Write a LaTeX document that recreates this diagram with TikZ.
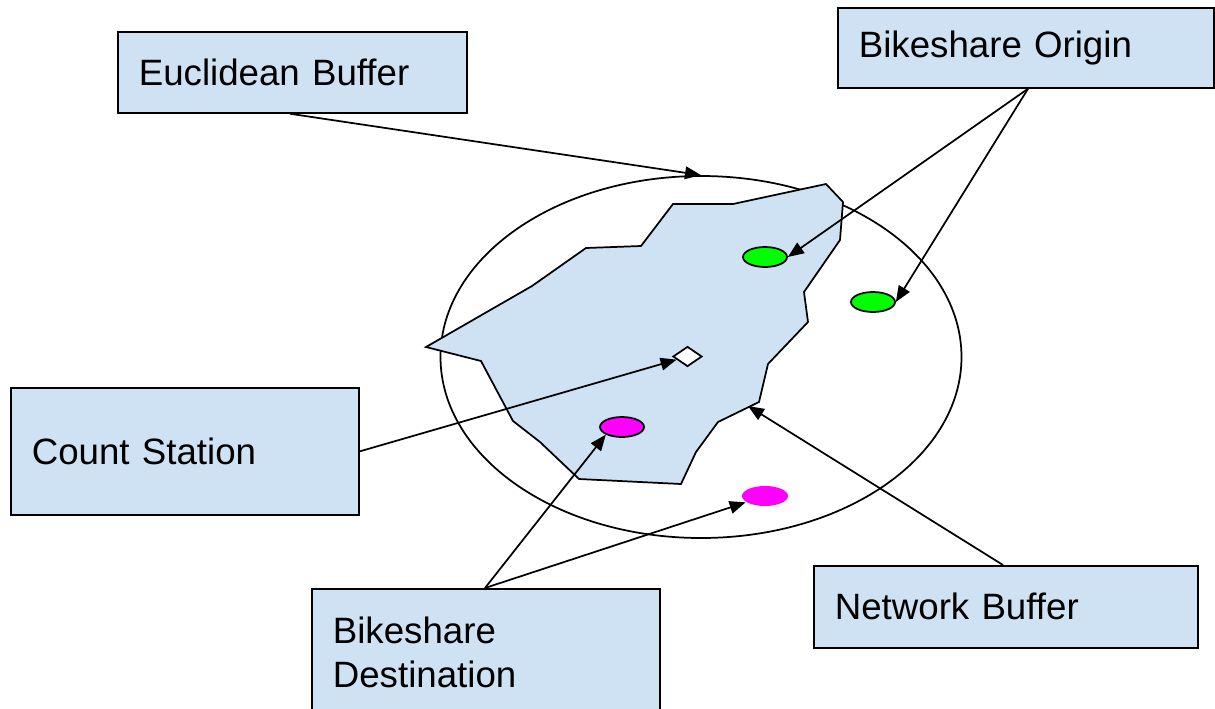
\documentclass[tikz,border=0pt]{standalone}
\usepackage{fontspec}
\setmainfont{Liberation Sans}
\usetikzlibrary{arrows.meta,shapes.geometric}
\definecolor{paleblue}{HTML}{CFE2F3}
\definecolor{bikegreen}{HTML}{00FF00}
\definecolor{bikepink}{HTML}{FF00FF}
\tikzset{
  label box/.style={draw=black, fill=paleblue, line width=1.3pt, rectangle,
    anchor=north west, inner xsep=15.75pt, inner ysep=0pt, align=left,
    font=\fontsize{27.5}{33}\selectfont},
  station/.style={ellipse, draw=black, line width=1.3pt, inner sep=0pt,
    minimum width=33pt, minimum height=15pt},
  pointer/.style={-{Triangle[length=12pt,width=9.5pt]}, line width=1.3pt},
  outline/.style={draw=black, line width=1.3pt}
}
\begin{document}
\begin{tikzpicture}[x=0.75pt, y=-0.75pt]
  \useasboundingbox (0,0) rectangle (1215,708);

  % circular (Euclidean) catchment around the count station
  \node[ellipse, outline, inner sep=0pt, minimum width=390.75pt,
        minimum height=271.5pt] (ebuf) at (701,357) {};

  % street-network catchment polygon
  \filldraw[fill=paleblue, outline, line join=miter]
    (426,347) -- (481,361) -- (513,421) -- (540,442) -- (579,479)
    -- (681,484) -- (696,452) -- (718,422) -- (759,402) -- (768,364)
    -- (808,322) -- (804,292) -- (840,240) -- (843,202) -- (826,184)
    -- (733,204) -- (673,204) -- (641,246) -- (586,248) -- (532,286)
    -- cycle;
  \coordinate (nbuf) at (748,406);

  % count station and bikeshare docks
  \node[diamond, outline, fill=white, inner sep=0pt, minimum width=21.75pt,
        minimum height=15pt] (dia) at (687.5,356.5) {};
  \node[station, fill=bikegreen] (g1) at (765,257) {};
  \node[station, fill=bikegreen] (g2) at (873,302) {};
  \node[station, fill=bikepink] (m1) at (622,427) {};
  \node[station, fill=bikepink, draw=none, minimum width=34.5pt] (m2) at (765,496) {};

  % labels
  \node[label box, minimum width=261.75pt, minimum height=60.75pt,
        text width=230.25pt] (eb) at (117,31) {Euclidean Buffer};
  \node[label box, minimum width=282pt, minimum height=60pt,
        text width=250.5pt] (bo) at (837,7) {Bikeshare Origin};
  \node[label box, minimum width=261pt, minimum height=95.25pt,
        text width=229.5pt] (cs) at (10,387) {Count Station};
  \node[label box, minimum width=261pt, minimum height=96pt,
        text width=229.5pt] (bd) at (311,588) {Bikeshare\\Destination};
  \node[label box, minimum width=288pt, minimum height=61.5pt,
        text width=256.5pt] (nb) at (813,565) {Network Buffer};

  % connectors
  \draw[pointer] ([xshift=129.75pt]eb.south west) -- (ebuf.north);
  \draw[pointer] ([xshift=143.25pt]bo.south west) -- (g1.east);
  \draw[pointer] ([xshift=143.25pt]bo.south west) -- (g2.east);
  \draw[pointer] (cs.east) -- (dia);
  \draw[pointer] ([xshift=130.5pt]bd.north west) -- (m1.south west);
  \draw[pointer] ([xshift=130.5pt]bd.north west) -- (m2);
  \draw[pointer] ([xshift=142.5pt]nb.north west) -- (nbuf);
\end{tikzpicture}
\end{document}
